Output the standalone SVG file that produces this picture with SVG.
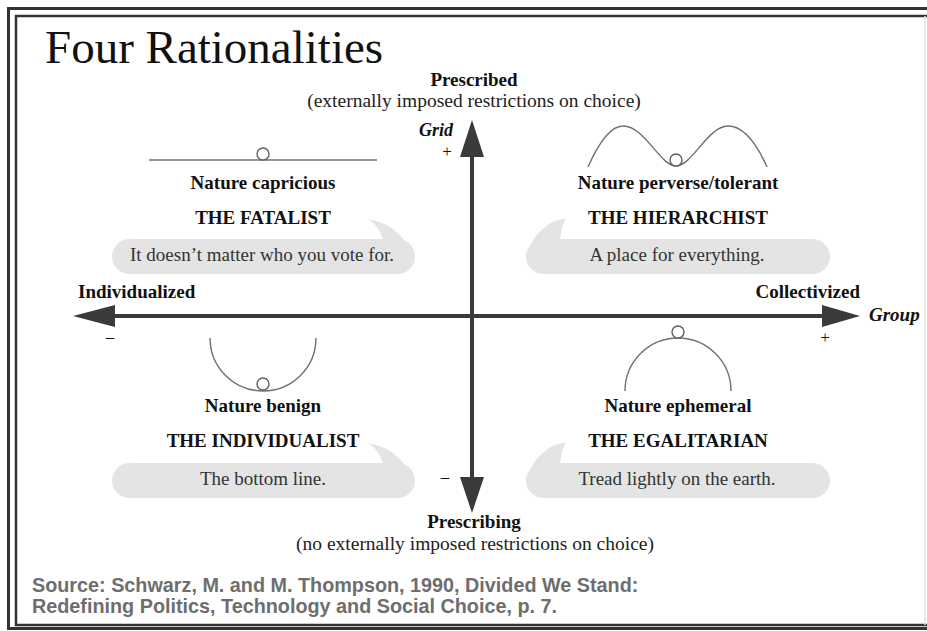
<svg xmlns="http://www.w3.org/2000/svg" width="927" height="631" viewBox="0 0 927 631">
<style>
.serif{font-family:"Liberation Serif","Times New Roman",serif;fill:#111}
.b{font-weight:bold}
.i{font-style:italic}
.mid{text-anchor:middle}
.head{font-size:19px}
.paren{font-size:19.5px;fill:#222}
.quote{font-size:19px;fill:#333}
.sign{font-size:17px}
.src{font-family:"Liberation Sans",Arial,sans-serif;font-weight:bold;font-size:19.8px;fill:#6e6e6e}
.bubble{fill:#e4e4e4}
.curve{fill:none;stroke:#707070;stroke-width:1.4}
.ball{fill:#fff;stroke:#606060;stroke-width:1.4}
.axis{stroke:#3a3a3a;stroke-width:4;fill:none}
.ahead{fill:#3a3a3a}
.frame{fill:none;stroke:#333}
</style>
<rect width="927" height="631" fill="#fff"/>
<g id="frame">
<path class="frame" d="M940 8.5H8.5V628.5H940" stroke-width="3"/>
<path class="frame" d="M930 16H16V625H930" stroke-width="2.5"/>
<line x1="925" y1="16" x2="925" y2="625" stroke="#e0e0e0" stroke-width="1.5"/>
</g>
<text class="serif" x="45" y="63" font-size="47">Four Rationalities</text>
<g id="connectors">
<line class="axis" x1="472" y1="152" x2="472" y2="480"/>
<polygon class="ahead" points="472,120 484,157 460,157"/>
<polygon class="ahead" points="472,513 484,477 460,477"/>
<line class="axis" x1="110" y1="316" x2="826" y2="316"/>
<polygon class="ahead" points="73,316 115,305 115,327"/>
<polygon class="ahead" points="860,316 822,305 822,327"/>
</g>
<g id="axis-labels">
<text class="serif b mid head" x="474" y="86">Prescribed</text>
<text class="serif mid paren" x="474" y="107">(externally imposed restrictions on choice)</text>
<text class="serif b i" x="453" y="136" font-size="18" text-anchor="end">Grid</text>
<text class="serif mid sign" x="447" y="157">+</text>
<text class="serif b head" x="78" y="298">Individualized</text>
<text class="serif mid sign" x="110" y="342">–</text>
<text class="serif b head" x="860" y="298" text-anchor="end">Collectivized</text>
<text class="serif b i" x="869" y="321" font-size="19">Group</text>
<text class="serif mid sign" x="825" y="343">+</text>
<text class="serif mid sign" x="445" y="482">–</text>
<text class="serif b mid head" x="474" y="528">Prescribing</text>
<text class="serif mid paren" x="475" y="550">(no externally imposed restrictions on choice)</text>
</g>
<g id="fatalist">
<line class="curve" x1="149" y1="160" x2="377" y2="160"/>
<circle class="ball" cx="263" cy="154" r="6"/>
<text class="serif b mid head" x="263" y="189">Nature capricious</text>
<text class="serif b mid head" x="263" y="224">THE FATALIST</text>
<rect class="bubble" x="112" y="239" width="303" height="35" rx="17.5"/>
<path class="bubble" d="M383 240C380 230 376 224 368 219C385 222 398 230 406 243Z"/>
<text class="serif mid quote" x="262" y="261">It doesn’t matter who you vote for.</text>
</g>
<g id="hierarchist">
<path class="curve" d="M588 167C600 140 612 126 623 126C645 126 660 166 676 166C692 166 708 126 728 126C742 126 755 140 767 167"/>
<circle class="ball" cx="676" cy="160" r="6"/>
<text class="serif b mid head" x="678" y="189">Nature perverse/tolerant</text>
<text class="serif b mid head" x="678" y="224">THE HIERARCHIST</text>
<rect class="bubble" x="526" y="239" width="304" height="35" rx="17.5"/>
<path class="bubble" d="M560 240C561 230 563 224 566 218C550 221 538 230 531 244Z"/>
<text class="serif mid quote" x="677" y="261">A place for everything.</text>
</g>
<g id="individualist">
<path class="curve" d="M210 338A53 53 0 0 0 316 338"/>
<circle class="ball" cx="263" cy="384" r="6"/>
<text class="serif b mid head" x="263" y="412">Nature benign</text>
<text class="serif b mid head" x="263" y="447">THE INDIVIDUALIST</text>
<rect class="bubble" x="112" y="463" width="303" height="35" rx="17.5"/>
<path class="bubble" d="M383 464C380 454 376 448 368 443C385 446 398 454 406 467Z"/>
<text class="serif mid quote" x="263" y="485">The bottom line.</text>
</g>
<g id="egalitarian">
<path class="curve" d="M625 391A53 53 0 0 1 731 391"/>
<circle class="ball" cx="678" cy="332" r="6"/>
<text class="serif b mid head" x="678" y="412">Nature ephemeral</text>
<text class="serif b mid head" x="678" y="447">THE EGALITARIAN</text>
<rect class="bubble" x="526" y="463" width="304" height="35" rx="17.5"/>
<path class="bubble" d="M560 464C561 454 563 448 566 442C550 445 538 454 531 468Z"/>
<text class="serif mid quote" x="677" y="485">Tread lightly on the earth.</text>
</g>
<g id="source">
<text class="src" x="32" y="592">Source: Schwarz, M. and M. Thompson, 1990, Divided We Stand:</text>
<text class="src" x="32" y="613">Redefining Politics, Technology and Social Choice, p. 7.</text>
</g>
</svg>
